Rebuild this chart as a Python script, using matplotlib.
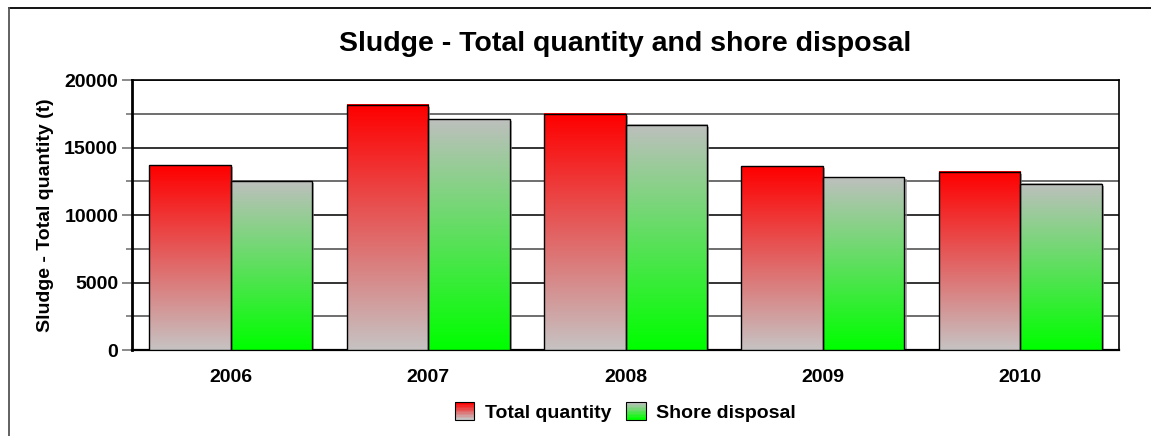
import numpy as np
import matplotlib
matplotlib.use("Agg")
import matplotlib.pyplot as plt
import matplotlib.patheffects as pe
from matplotlib.lines import Line2D
from matplotlib.patches import Rectangle
from matplotlib.legend_handler import HandlerBase

plt.rcParams['font.family'] = ['Liberation Sans', 'DejaVu Sans']
plt.rcParams['font.weight'] = 'bold'

years = ['2006', '2007', '2008', '2009', '2010']
total_quantity = [13700, 18150, 17500, 13600, 13200]
shore_disposal = [12500, 17100, 16700, 12800, 12300]

# gradient colours (top, bottom) for each series
red_grad = ((1.0, 0.0, 0.0), (0.78, 0.76, 0.76))
green_grad = ((0.74, 0.75, 0.74), (0.0, 1.0, 0.0))


def gradient(top, bottom, n=64):
    t = np.linspace(0, 1, n)[:, None]  # 0 at bottom
    top = np.array(top)
    bottom = np.array(bottom)
    return (bottom + (top - bottom) * t)[:, None, :]


class GradientHandler(HandlerBase):
    def __init__(self, top, bottom):
        super().__init__()
        self.top = top
        self.bottom = bottom

    def create_artists(self, legend, orig_handle, xdescent, ydescent,
                       width, height, fontsize, trans):
        arts = []
        n = 12
        cols = gradient(self.top, self.bottom, n)[:, 0, :]
        for i in range(n):
            r = Rectangle((-xdescent, -ydescent + height * i / n), width, height / n + 0.3,
                          facecolor=cols[i], edgecolor='none', transform=trans)
            arts.append(r)
        arts.append(Rectangle((-xdescent, -ydescent), width, height, facecolor='none',
                              edgecolor='black', lw=0.8, transform=trans))
        return arts


fig = plt.figure(figsize=(11.51, 4.36), dpi=100)
ax = fig.add_axes([0.1147, 0.1972, 0.8575, 0.6193])

x = np.arange(len(years))
w = 0.413

shadow = [pe.SimplePatchShadow(offset=(1.5, -1.5), shadow_rgbFace='#888888', alpha=0.7)]
for vals, off, grad in [(total_quantity, -w / 2, red_grad), (shore_disposal, w / 2, green_grad)]:
    ax.bar(x + off, vals, w, color='none', edgecolor='none', path_effects=shadow, zorder=2)
    bars = ax.bar(x + off, vals, w, facecolor='none', edgecolor='black', lw=1.0, zorder=4)
    for b in bars:
        x0, y0 = b.get_x(), b.get_y()
        ax.imshow(gradient(*grad), extent=[x0, x0 + b.get_width(), y0, y0 + b.get_height()],
                  origin='lower', aspect='auto', interpolation='bilinear', zorder=3)

ax.set_xlim(-0.5, len(years) - 0.5)
ax.set_ylim(0, 20000)
ax.set_yticks([0, 5000, 10000, 15000, 20000])
ax.set_yticks([2500, 7500, 12500, 17500], minor=True)
ax.set_xticks(x)
ax.set_xticklabels(years)
ax.tick_params(axis='x', length=0, pad=14, labelsize=14)
ax.tick_params(axis='y', which='major', length=7, color='#777777', width=1.2, pad=3, labelsize=14)
ax.tick_params(axis='y', which='minor', length=4, color='#777777', width=1.2)
ax.grid(axis='y', which='major', color='#111111', lw=1.2, zorder=1)
ax.grid(axis='y', which='minor', color='#555555', lw=1.2, zorder=1)
ax.set_axisbelow(True)
for s in ax.spines.values():
    s.set_color('black')
    s.set_linewidth(1.2)
ax.spines['left'].set_linewidth(2)
ax.spines['bottom'].set_linewidth(1.6)

ax.set_ylabel('Sludge - Total quantity (t)', fontsize=14, fontweight='bold')
ax.yaxis.set_label_coords(-0.079, 0.5)

fig.text(0.5434, 0.9, 'Sludge - Total quantity and shore disposal', ha='center', va='center',
         fontsize=20.5, fontweight='bold')

h1 = Rectangle((0, 0), 1, 1)
h2 = Rectangle((0, 0), 1, 1)
fig.legend([h1, h2], ['Total quantity', 'Shore disposal'], loc='center',
           bbox_to_anchor=(0.5434, 0.055), ncol=2, frameon=False, fontsize=14,
           handlelength=1.0, handleheight=1.0, handletextpad=0.55, columnspacing=0.75,
           handler_map={h1: GradientHandler(*red_grad), h2: GradientHandler(*green_grad)})

# outer frame (top and left only)
fig.add_artist(Line2D([9 / 1151, 1.0], [1 - 8 / 436, 1 - 8 / 436], color='black', lw=1.3))
fig.add_artist(Line2D([9 / 1151, 9 / 1151], [0, 1 - 8 / 436], color='#555555', lw=1.3))

fig.savefig('out.png', dpi=100)
